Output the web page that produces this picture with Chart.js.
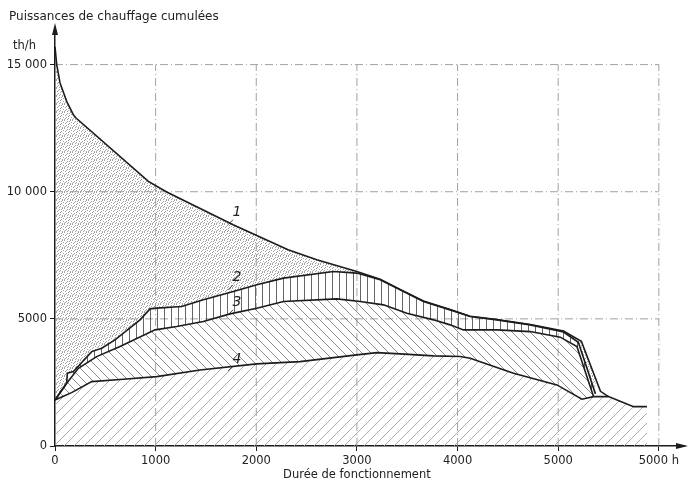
<!DOCTYPE html>
<html>
<head>
<meta charset="utf-8">
<script src="https://cdn.jsdelivr.net/npm/chart.js@4.4.1/dist/chart.umd.min.js"></script>
<style>
  body { margin: 0; background: #fff; }
  canvas { display: block; }
</style>
</head>
<body>
<canvas id="chaleur" width="693" height="488"></canvas>
<script>
// curve 1: total cumulated heating power (load duration curve)
const c1Hours = [0, 17, 50, 116, 182, 209, 928, 1110, 1770, 2005, 2316, 2601, 2999, 3231, 3429, 3661, 3926, 4125, 4391, 4722, 5053, 5230, 5420, 5500];
const c1Power = [15700, 15000, 14280, 13555, 13030, 12900, 10405, 9990, 8700, 8280, 7717, 7323, 6862, 6560, 6160, 5700, 5370, 5105, 4975, 4780, 4520, 4120, 2150, 1942];

// curve 2
const c2Hours = [0, 116, 123, 182, 365, 464, 596, 845, 944, 1011, 1259, 1474, 1773, 2005, 2270, 2767, 2999, 3231, 3429, 3661, 3926, 4125, 4391, 4722, 5053, 5200, 5370];
const c2Power = [1811, 2468, 2862, 2925, 3713, 3846, 4173, 4961, 5394, 5421, 5485, 5748, 6075, 6339, 6602, 6862, 6800, 6535, 6142, 5681, 5354, 5091, 4961, 4764, 4480, 4080, 2050];

// curve 3
const c3Hours = [0, 116, 232, 414, 646, 994, 1209, 1474, 1740, 2005, 2270, 2800, 3032, 3264, 3496, 3761, 3926, 4059, 4391, 4722, 5020, 5186, 5351];
const c3Power = [1811, 2468, 3055, 3516, 3910, 4567, 4697, 4895, 5197, 5421, 5681, 5787, 5681, 5551, 5224, 4961, 4764, 4567, 4567, 4500, 4280, 3910, 1942];

// curve 4
const c4Hours = [0, 165, 365, 679, 1011, 1441, 2005, 2435, 2999, 3198, 3429, 3761, 4026, 4125, 4556, 4987, 5236, 5351, 5500, 5749, 5882];
const c4Power = [1811, 2098, 2532, 2626, 2728, 2992, 3228, 3320, 3583, 3673, 3622, 3543, 3520, 3453, 2862, 2402, 1839, 1942, 1942, 1547, 1547];

const xTicks = [0, 1000, 2000, 3000, 4000, 5000, 6000];
const xTickLabels = ['0', '1000', '2000', '3000', '4000', '5000', '5000 h'];
const yTicks = [0, 5000, 10000, 15000];
const yTickLabels = ['0', '5000', '10 000', '15 000'];

// curve numbers, placed in data units
const curveNames = ['1', '2', '3', '4'];
const nameHours = [1809, 1809, 1809, 1809];
const namePower = [9173, 6614, 5630, 3425];

const pts = (xs, ys) => xs.map((x, i) => ({ x: x, y: ys[i] }));

// scattered dot spots for the stipple tile
const stippleSpots = [[0, 0], [3, 1], [6, 0], [1, 3], [5, 3], [2, 5], [7, 5], [4, 6], [0, 7],
                      [2, 2], [7, 2], [4, 4], [6, 7], [1, 6], [5, 1], [3, 7]];

function makePattern(kind, size, color, width) {
    const c = document.createElement('canvas');
    c.width = size; c.height = size;
    const g = c.getContext('2d');
    if (kind === 'dots') {
        g.fillStyle = color;
        stippleSpots.forEach(p => g.fillRect(p[0], p[1], 1, 1));
        return g.createPattern(c, 'repeat');
    }
    g.strokeStyle = color;
    g.lineWidth = width;
    g.beginPath();
    if (kind === 'v') {
        g.moveTo(size / 2, 0); g.lineTo(size / 2, size);
    } else if (kind === '/') {
        g.moveTo(0, size); g.lineTo(size, 0);
        g.moveTo(-1, 1); g.lineTo(1, -1);
        g.moveTo(size - 1, size + 1); g.lineTo(size + 1, size - 1);
    } else {
        g.moveTo(0, 0); g.lineTo(size, size);
        g.moveTo(-1, size - 1); g.lineTo(1, size + 1);
        g.moveTo(size - 1, -1); g.lineTo(size + 1, 1);
    }
    g.stroke();
    return g.createPattern(c, 'repeat');
}

const ink = '#1c1c1c';
const lineStyle = { borderColor: ink, borderWidth: 1.6, pointRadius: 0, tension: 0 };

/* own drawing: dashed grid, arrows, curve numbers and free texts */
const decor = {
    id: 'decor',
    beforeDatasetsDraw(chart) {
        const { ctx, scales: { x, y } } = chart;
        ctx.save();
        ctx.strokeStyle = '#8a8a8a';
        ctx.lineWidth = 0.8;
        ctx.setLineDash([8, 3, 1, 3]);
        xTicks.slice(1).forEach(v => {
            ctx.beginPath();
            ctx.moveTo(x.getPixelForValue(v), y.getPixelForValue(0));
            ctx.lineTo(x.getPixelForValue(v), y.getPixelForValue(15000));
            ctx.stroke();
        });
        yTicks.slice(1).forEach(v => {
            ctx.beginPath();
            ctx.moveTo(x.getPixelForValue(0), y.getPixelForValue(v));
            ctx.lineTo(x.getPixelForValue(6000), y.getPixelForValue(v));
            ctx.stroke();
        });
        ctx.restore();
    },
    afterDraw(chart) {
        const { ctx, chartArea: a, scales: { x, y } } = chart;
        ctx.save();
        ctx.fillStyle = ink;
        // arrow heads
        ctx.beginPath();
        ctx.moveTo(a.left, a.top - 6);
        ctx.lineTo(a.left - 3, a.top + 6);
        ctx.lineTo(a.left + 3, a.top + 6);
        ctx.fill();
        ctx.beginPath();
        ctx.moveTo(a.right + 4, a.bottom);
        ctx.lineTo(a.right - 8, a.bottom - 3);
        ctx.lineTo(a.right - 8, a.bottom + 3);
        ctx.fill();

        ctx.fillStyle = '#222';
        ctx.font = '12px "DejaVu Sans"';
        ctx.textBaseline = 'middle';
        ctx.textAlign = 'left';
        ctx.fillText('Puissances de chauffage cumulées', 9, 17);
        ctx.font = '11.5px "DejaVu Sans"';
        ctx.fillText('th/h', 13, 46);
        ctx.textAlign = 'center';
        ctx.fillText('Durée de fonctionnement', x.getPixelForValue(3000), 475);

        // curve numbers with small leaders
        ctx.font = 'italic 14px "DejaVu Sans"';
        ctx.strokeStyle = ink;
        ctx.lineWidth = 0.8;
        curveNames.forEach((t, i) => {
            const px = x.getPixelForValue(nameHours[i]);
            const py = y.getPixelForValue(namePower[i]);
            ctx.fillText(t, px, py);
            ctx.beginPath();
            ctx.moveTo(px - 4, py + 7);
            ctx.lineTo(px - 9, py + 12);
            ctx.stroke();
        });
        ctx.restore();
    }
};

new Chart(document.getElementById('chaleur'), {
    type: 'line',
    data: {
        datasets: [
            { ...lineStyle, data: pts(c4Hours, c4Power), fill: 'origin',
              backgroundColor: makePattern('/', 10, '#a4a4a4', 0.9) },
            { ...lineStyle, data: pts(c3Hours, c3Power), fill: 0,
              backgroundColor: makePattern('\\', 9, '#808080', 0.9) },
            { ...lineStyle, data: pts(c2Hours, c2Power), fill: 1,
              backgroundColor: makePattern('v', 7, '#555', 0.9) },
            { ...lineStyle, data: pts(c1Hours, c1Power), fill: 2,
              backgroundColor: makePattern('dots', 8, '#a0a0a0') }
        ]
    },
    options: {
        responsive: false,
        animation: false,
        layout: { padding: { left: 0, top: 29, right: 9, bottom: 0 } },
        plugins: { legend: { display: false }, tooltip: { enabled: false } },
        scales: {
            x: {
                type: 'linear',
                min: 0,
                max: 6250,
                afterBuildTicks: s => { s.ticks = xTicks.map(v => ({ value: v })); },
                afterFit: s => { s.height = 42; },
                ticks: {
                    color: '#222',
                    padding: 3,
                    maxRotation: 0,
                    font: { family: 'DejaVu Sans', size: 11.5 },
                    callback: v => xTickLabels[xTicks.indexOf(v)]
                },
                grid: { drawOnChartArea: false, tickLength: 5, tickColor: ink },
                border: { color: ink, width: 1.5 }
            },
            y: {
                type: 'linear',
                min: 0,
                max: 16400,
                afterBuildTicks: s => { s.ticks = yTicks.map(v => ({ value: v })); },
                afterFit: s => { s.width = 55; },
                ticks: {
                    color: '#222',
                    padding: 3,
                    font: { family: 'DejaVu Sans', size: 11.5 },
                    callback: v => yTickLabels[yTicks.indexOf(v)]
                },
                grid: { drawOnChartArea: false, tickLength: 5, tickColor: ink },
                border: { color: ink, width: 1.5 }
            }
        }
    },
    plugins: [decor]
});
</script>
</body>
</html>
